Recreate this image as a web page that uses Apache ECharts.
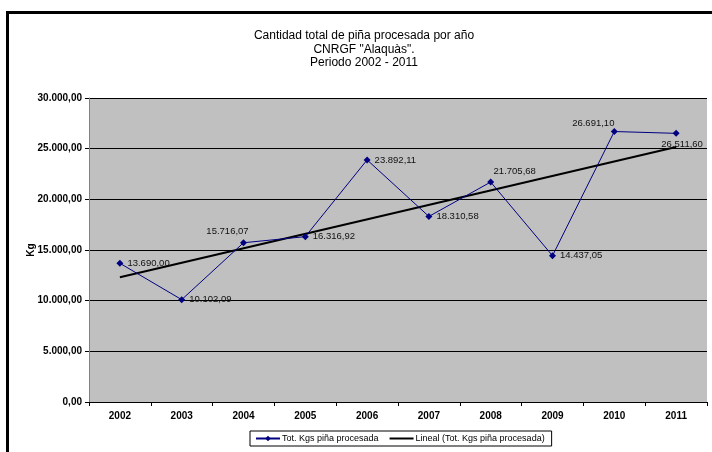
<!DOCTYPE html>
<html>
<head>
<meta charset="utf-8">
<script src="https://cdn.jsdelivr.net/npm/echarts@6/dist/echarts.min.js"></script>
<style>
html,body{margin:0;padding:0;background:#fff;}
#c{width:712px;height:452px;}
</style>
</head>
<body>
<div id="c"></div>
<script>
var years = ['2002','2003','2004','2005','2006','2007','2008','2009','2010','2011'];
var kgs = [13690.00, 10102.09, 15716.07, 16316.92, 23892.11, 18310.58, 21705.68, 14437.05, 26691.10, 26511.60];
// trend line end points (Lineal)
var trendStart = 12309;
var trendEnd = 25165;
var yTicks = [0, 5000, 10000, 15000, 20000, 25000, 30000];

// label placement per point (style only)
var labelPos = [
  {position:'right', distance:4},
  {position:'right', distance:4},
  {position:'top', distance:3, offset:[-16,0]},
  {position:'right', distance:4},
  {position:'right', distance:4},
  {position:'right', distance:4},
  {position:'top', distance:2, offset:[24,0]},
  {position:'right', distance:4},
  {position:'top', distance:0, offset:[-21,0]},
  {position:'bottom', distance:3, offset:[6,0]}
];

function fmt(v){
  var s = Number(v).toFixed(2);
  var parts = s.split('.');
  var intp = parts[0].replace(/\B(?=(\d{3})+(?!\d))/g, '.');
  return intp + ',' + parts[1];
}

var trendData = years.map(function(y,i){
  if(i===0) return trendStart;
  if(i===years.length-1) return trendEnd;
  return null;
});

var mainData = kgs.map(function(v,i){
  return {value:v, label:labelPos[i]};
});

var chart = echarts.init(document.getElementById('c'), null, {renderer:'canvas'});
var FONT = 'Liberation Sans, Arial, sans-serif';
chart.setOption({
  animation:false,
  backgroundColor:'#ffffff',
  textStyle:{fontFamily:FONT},
  title:{
    text:'Cantidad total de piña procesada por año\nCNRGF "Alaquàs".\nPeriodo 2002 - 2011',
    left:359, top:24, textAlign:'center',
    textStyle:{fontSize:12, fontWeight:'normal', color:'#000', lineHeight:13.5, fontFamily:FONT}
  },
  graphic:[{
    type:'rect', left:5, top:10, silent:true, z:-1,
    shape:{x:0,y:0,width:730,height:470},
    style:{fill:'none', stroke:'#000', lineWidth:3}
  }],
  legend:{
    left:250, top:431,
    padding:[3,7,3,5],
    itemGap:10, itemWidth:24, itemHeight:7,
    borderColor:'#000', borderWidth:1,
    textStyle:{fontSize:9, color:'#000', fontFamily:FONT, padding:[0,0,0,-3]},
    data:[
      {name:'Tot. Kgs piña procesada'},
      {name:'Lineal (Tot. Kgs piña procesada)', itemStyle:{opacity:0}}
    ]
  },
  grid:{left:89, right:5, top:98, bottom:50, show:true, backgroundColor:'#C0C0C0', borderWidth:0},
  xAxis:{
    type:'category', data:years, boundaryGap:true,
    axisLine:{lineStyle:{color:'#000', width:1}},
    axisTick:{show:true, length:4, lineStyle:{color:'#000'}},
    axisLabel:{fontSize:10, fontWeight:'bold', color:'#000', margin:9, fontFamily:FONT}
  },
  yAxis:{
    type:'value', min:yTicks[0], max:yTicks[yTicks.length-1], interval:yTicks[1]-yTicks[0],
    name:'Kg', nameLocation:'middle', nameGap:53, nameRotate:90, nameMoveOverlap:false,
    nameTextStyle:{fontSize:10, fontWeight:'bold', color:'#000', fontFamily:FONT},
    axisLine:{show:true, lineStyle:{color:'#808080', width:1}},
    axisTick:{show:true, length:4, lineStyle:{color:'#000'}},
    splitLine:{show:true, lineStyle:{color:'#000', width:1}},
    axisLabel:{fontSize:10, fontWeight:'bold', color:'#000', margin:7, formatter:function(v){return fmt(v);}, fontFamily:FONT}
  },
  series:[
    {
      name:'Tot. Kgs piña procesada', type:'line', data:mainData,
      symbol:'diamond', symbolSize:7,
      lineStyle:{color:'#000080', width:1},
      itemStyle:{color:'#000080'},
      label:{show:true, fontSize:9.5, color:'#111', fontFamily:FONT, formatter:function(p){return fmt(p.value);}},
      z:3
    },
    {
      name:'Lineal (Tot. Kgs piña procesada)', type:'line', data:trendData,
      connectNulls:true, symbol:'none',
      lineStyle:{color:'#000', width:2},
      itemStyle:{color:'#000'},
      z:2
    }
  ]
});
</script>
</body>
</html>
